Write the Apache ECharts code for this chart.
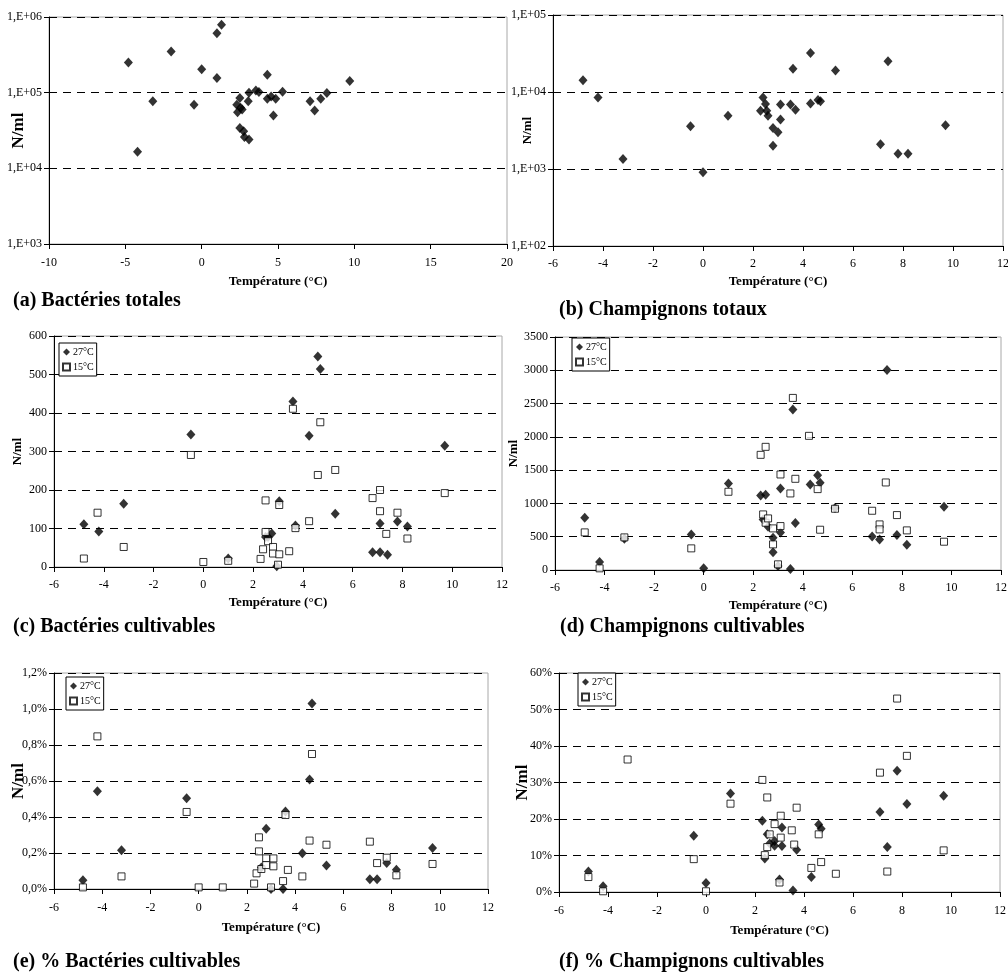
<!DOCTYPE html>
<html>
<head>
<meta charset="utf-8">
<script src="https://cdn.jsdelivr.net/npm/echarts@6/dist/echarts.min.js"></script>
<style>
html,body{margin:0;padding:0;background:#fff;}
#chart{width:1008px;height:976px;}
</style>
</head>
<body>
<div id="chart"></div>
<script>
// ---------- DATA ----------
const panelTitles = ['(a) Bactéries totales', '(b) Champignons totaux', '(c) Bactéries cultivables',
  '(d) Champignons cultivables', '(e) % Bactéries cultivables', '(f) % Champignons cultivables'];
const xAxisName = 'Température (°C)';
const yAxisName = 'N/ml';
const seriesNames = ['27°C', '15°C'];

// (a) Bactéries totales (log scale)
const aTemp = [-4.8,-4.2,-3.2,-2.0,-0.5,0.0,1.0,1.3,1.0,2.3,2.35,2.5,2.55,2.65,2.5,2.75,2.8,3.1,3.05,3.1,3.55,3.75,4.3,4.3,4.55,4.85,4.7,5.3,7.1,7.4,7.8,8.2,9.7];
const aVal = [2.5e5,1.66e4,7.7e4,3.5e5,6.9e4,2.04e5,6.1e5,7.9e5,1.56e5,6.9e4,5.5e4,8.5e4,6.3e4,6.0e4,3.4e4,3.1e4,2.6e4,2.4e4,7.7e4,1.0e5,1.07e5,1.02e5,1.73e5,8.3e4,8.9e4,8.3e4,5.0e4,1.03e5,7.7e4,5.8e4,8.3e4,9.9e4,1.43e5];

// (b) Champignons totaux (log scale)
const bTemp = [-4.8,-4.2,-3.2,-0.5,0.0,1.0,2.4,2.3,2.5,2.55,2.6,2.8,3.0,2.8,3.1,3.1,3.5,3.6,3.7,4.3,4.3,4.6,4.7,5.3,7.1,7.4,7.8,8.2,9.7];
const bVal = [1.42e4,8.5e3,1.35e3,3.6e3,9.1e2,4.9e3,8.5e3,5.7e3,7.0e3,5.7e3,4.9e3,3.4e3,3.0e3,2.0e3,6.9e3,4.4e3,6.9e3,2.0e4,5.9e3,3.2e4,7.1e3,7.9e3,7.6e3,1.9e4,2.1e3,2.5e4,1.58e3,1.58e3,3.7e3];

// (c) Bactéries cultivables
const c27Temp = [-4.8,-4.2,-3.2,-0.5,1.0,2.5,2.6,2.75,2.95,3.05,3.6,3.7,4.25,4.6,4.7,5.3,6.8,7.1,7.1,7.4,7.8,8.2,9.7];
const c27Val = [111,92,164,344,22,78,78,87,2,171,430,108,341,547,514,138,38,38,113,32,118,105,315];
const c15Temp = [-4.8,-4.25,-3.2,-0.5,0.0,1.0,2.3,2.4,2.5,2.5,2.6,2.8,2.8,3.05,3.05,3.0,3.45,3.6,3.7,4.25,4.6,4.7,5.3,6.8,7.1,7.1,7.35,7.8,8.2,9.7];
const c15Val = [22,141,52,291,13,16,21,46,173,91,67,52,35,161,33,6,41,411,101,119,239,376,252,179,200,145,86,141,74,192];

// (d) Champignons cultivables
const d27Temp = [-4.8,-4.2,-3.2,-0.5,0.0,1.0,2.3,2.5,2.4,2.6,2.8,2.8,3.0,3.1,3.1,3.5,3.6,3.7,4.3,4.6,4.7,5.3,6.8,7.1,7.4,7.8,8.2,9.7];
const d27Val = [785,120,470,535,25,1300,1120,1130,760,650,485,265,60,1225,565,15,2410,705,1285,1425,1310,930,505,460,3005,525,380,950];
const d15Temp = [-4.8,-4.2,-3.2,-0.5,1.0,2.3,2.5,2.4,2.5,2.6,2.8,2.8,3.0,3.1,3.1,3.5,3.6,3.7,4.25,4.6,4.7,5.3,6.8,7.1,7.1,7.35,7.8,8.2,9.7];
const d15Val = [565,25,490,325,1175,1730,1850,835,710,775,625,385,85,1435,660,1150,2585,1370,2015,1215,605,920,890,685,610,1315,825,595,425];

// (e) % Bactéries cultivables (values in %)
const e27Temp = [-4.8,-4.2,-3.2,-0.5,2.6,2.8,3.0,3.5,3.6,4.3,4.6,4.7,5.3,7.1,7.4,7.8,8.2,9.7];
const e27Val = [0.048,0.543,0.215,0.504,0.12,0.335,0.0,0.0,0.43,0.198,0.609,1.03,0.131,0.054,0.054,0.144,0.107,0.228];
const e15Temp = [-4.8,-4.2,-3.2,-0.5,0.0,1.0,2.3,2.4,2.5,2.5,2.6,2.8,2.8,3.1,3.1,3.0,3.5,3.6,3.7,4.3,4.6,4.7,5.3,7.1,7.4,7.8,8.2,9.7];
const e15Val = [0.009,0.848,0.07,0.428,0.009,0.009,0.03,0.087,0.287,0.209,0.111,0.17,0.133,0.17,0.126,0.009,0.044,0.411,0.106,0.07,0.269,0.75,0.246,0.263,0.144,0.174,0.076,0.139];

// (f) % Champignons cultivables (values in %)
const f27Temp = [-4.8,-4.2,-0.5,0.0,1.0,2.3,2.4,2.5,2.6,2.8,2.8,3.1,3.1,3.0,3.55,3.7,4.3,4.6,4.7,7.1,7.4,7.8,8.2,9.7];
const f27Val = [5.6,1.6,15.4,2.5,27.0,19.5,9.2,15.8,13.3,12.7,14.0,17.7,12.6,3.4,0.4,11.6,4.1,18.5,17.3,21.9,12.3,33.2,24.1,26.4];
const f15Temp = [-4.8,-4.2,-3.2,-0.5,0.0,1.0,2.3,2.5,2.4,2.5,2.6,2.8,3.05,3.05,3.0,3.5,3.6,3.7,4.3,4.6,4.7,5.3,7.1,7.4,7.8,8.2,9.7];
const f15Val = [4.1,0.2,36.3,9.0,0.2,24.2,30.7,25.9,10.1,12.3,15.8,18.6,20.9,14.9,2.6,16.9,13.0,23.1,6.6,15.8,8.2,5.0,32.7,5.6,53.0,37.3,11.4];

// ---------- LAYOUT / STYLE ----------
const FONT = "'Liberation Serif', 'Times New Roman', serif";
const zip = (xs, ys) => xs.map((x, i) => [x, ys[i]]);
const logFmt = v => { const e = Math.round(Math.log10(v)); return '1,E+' + (e < 10 ? '0' : '') + e; };

const panels = [
  {grid:{left:49,top:17,width:458,height:227}, x:{min:-10,max:20,interval:5}, y:{type:'log',min:1e3,max:1e6,fmt:logFmt},
   yName:{size:17,gap:22}, xLab:13, xGap:31, title:{left:13,top:291},
   series:[[aTemp,aVal]], legend:null},
  {grid:{left:553,top:15,width:450,height:231}, x:{min:-6,max:12,interval:2}, y:{type:'log',min:1e2,max:1e5,fmt:logFmt},
   yName:{size:13,gap:19}, xLab:12, xGap:29, title:{left:559,top:300},
   series:[[bTemp,bVal]], legend:null},
  {grid:{left:54,top:336,width:448,height:231}, x:{min:-6,max:12,interval:2}, y:{type:'value',min:0,max:600,interval:100,fmt:v=>v},
   yName:{size:13,gap:30}, xLab:12, xGap:29, title:{left:13,top:617},
   series:[[c27Temp,c27Val],[c15Temp,c15Val]], legend:{left:59,top:343}},
  {grid:{left:555,top:337,width:446,height:233}, x:{min:-6,max:12,interval:2}, y:{type:'value',min:0,max:3500,interval:500,fmt:v=>v},
   yName:{size:13,gap:35}, xLab:12, xGap:29, title:{left:560,top:617},
   series:[[d27Temp,d27Val],[d15Temp,d15Val]], legend:{left:572,top:338}},
  {grid:{left:54,top:673,width:434,height:216}, x:{min:-6,max:12,interval:2}, y:{type:'value',min:0,max:1.2,interval:0.2,fmt:v=>v.toFixed(1).replace('.',',')+'%'},
   yName:{size:17,gap:27}, xLab:13, xGap:32, title:{left:13,top:952},
   series:[[e27Temp,e27Val],[e15Temp,e15Val]], legend:{left:66,top:677}},
  {grid:{left:559,top:673,width:441,height:219}, x:{min:-6,max:12,interval:2}, y:{type:'value',min:0,max:60,interval:10,fmt:v=>v+'%'},
   yName:{size:17,gap:28}, xLab:13, xGap:32, title:{left:559,top:952},
   series:[[f27Temp,f27Val],[f15Temp,f15Val]], legend:{left:578,top:673}}
];

const option = {
  animation: false,
  backgroundColor: '#fff',
  textStyle: {fontFamily: FONT},
  title: [], grid: [], xAxis: [], yAxis: [], series: [], legend: []
};

const diamondStyle = {type:'scatter', symbol:'diamond', symbolSize:[9,10], itemStyle:{color:'#000'}};
const squareStyle = {type:'scatter', symbol:'rect', symbolSize:7, itemStyle:{color:'#fff', borderColor:'#000', borderWidth:1}};

panels.forEach((p, i) => {
  option.title.push({text: panelTitles[i], left: p.title.left, top: p.title.top, padding: 0,
    textStyle: {fontFamily: FONT, fontSize: 20, fontWeight: 'bold', color: '#000'}});
  option.grid.push(Object.assign({show: true, borderColor: '#a8a8a8', borderWidth: 1, backgroundColor: 'transparent',
    containLabel: false, outerBoundsMode: 'none'}, p.grid));
  option.xAxis.push({
    type: 'value', gridIndex: i, min: p.x.min, max: p.x.max, interval: p.x.interval,
    name: xAxisName, nameLocation: 'middle', nameGap: p.xGap, nameMoveOverlap: false,
    nameTextStyle: {fontFamily: FONT, fontSize: 13, fontWeight: 'bold', color: '#000'},
    axisLine: {show: true, onZero: false, lineStyle: {color: '#000', width: 1}},
    axisTick: {show: true, inside: false, length: 5, lineStyle: {color: '#000'}},
    axisLabel: {margin: p.xLab, fontFamily: FONT, fontSize: 12, color: '#000', showMinLabel: true, showMaxLabel: true},
    splitLine: {show: false}
  });
  const y = {
    type: p.y.type, gridIndex: i, min: p.y.min, max: p.y.max,
    name: yAxisName, nameLocation: 'middle', nameGap: p.yName.gap, nameMoveOverlap: false,
    nameTextStyle: {fontFamily: FONT, fontSize: p.yName.size, fontWeight: 'bold', color: '#000'},
    axisLine: {show: true, onZero: false, lineStyle: {color: '#000', width: 1}},
    axisTick: {show: true, inside: false, length: 5, lineStyle: {color: '#000'}},
    axisLabel: {margin: 7, fontFamily: FONT, fontSize: 12, color: '#000', formatter: p.y.fmt, showMinLabel: true, showMaxLabel: true},
    splitLine: {show: true, lineStyle: {color: '#000', type: [8, 6], width: 1}},
    minorTick: {show: false}
  };
  if (p.y.type === 'log') { y.logBase = 10; } else { y.interval = p.y.interval; }
  option.yAxis.push(y);

  p.series.forEach((s, k) => {
    const base = k === 0 ? diamondStyle : squareStyle;
    option.series.push(Object.assign({}, base, {
      name: seriesNames[k], xAxisIndex: i, yAxisIndex: i, data: zip(s[0], s[1]), z: 3 + k
    }));
  });

  if (p.legend) {
    option.legend.push({
      left: p.legend.left, top: p.legend.top, orient: 'vertical',
      data: seriesNames, padding: [4, 3, 4, 3], itemGap: 5, itemWidth: 7, itemHeight: 7,
      borderColor: '#000', borderWidth: 1, backgroundColor: '#fff', selectedMode: false,
      textStyle: {fontFamily: FONT, fontSize: 10, color: '#000', padding: [0,0,0,-2]}
    });
  }
});

const chart = echarts.init(document.getElementById('chart'), null, {renderer: 'canvas'});
chart.setOption(option);
</script>
</body>
</html>
